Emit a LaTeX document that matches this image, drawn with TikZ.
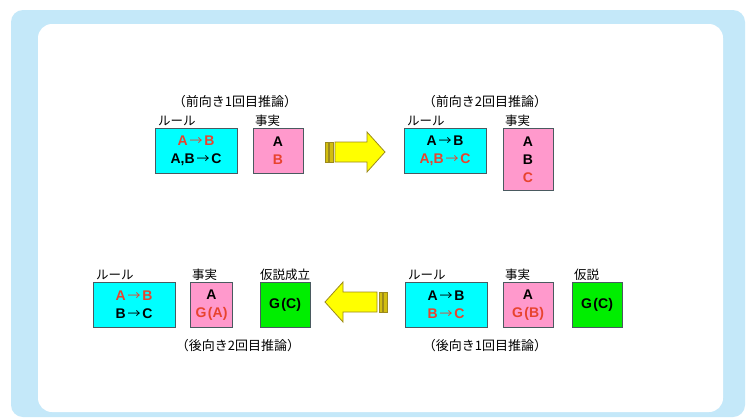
\documentclass[tikz,border=0pt]{standalone}
\usepackage{fontspec}
\setmainfont{Liberation Sans}
\newfontfamily\jp{Noto Sans CJK JP}
\newcommand{\ra}{\kern1.8pt\raisebox{0.6pt}{\jp\mdseries\fontsize{13}{18}\selectfont →}\kern1.8pt}
\definecolor{outerblue}{HTML}{C4E8F9}
\definecolor{cyanfill}{HTML}{00FFFF}
\definecolor{pinkfill}{HTML}{FF99CC}
\definecolor{greenfill}{HTML}{00EE00}
\definecolor{boxline}{HTML}{4A5A60}
\definecolor{hl}{HTML}{E8432E}
\definecolor{arrowfill}{HTML}{FFFF00}
\definecolor{arrowline}{HTML}{9C8A1C}
\definecolor{stripefill}{HTML}{D2BE10}
\tikzset{
  box/.style={draw=boxline, line width=0.8pt, inner sep=0pt, align=center,
    font=\fontsize{14}{18}\selectfont\bfseries},
  rulebox/.style={box, fill=cyanfill, minimum width=82pt, minimum height=45pt},
  factbox/.style={box, fill=pinkfill, minimum width=50pt, minimum height=45pt},
  hypbox/.style={box, fill=greenfill, minimum width=50pt, minimum height=45pt},
  tag/.style={anchor=base west, inner sep=0pt, font=\jp\fontsize{12.5}{14}\selectfont},
  steplabel/.style={inner sep=0pt, font=\jp\fontsize{13}{15}\selectfont},
  bigarrow/.style={draw=arrowline, line width=0.8pt, fill=arrowfill, line join=miter},
  stripe/.style={draw=arrowline, line width=0.6pt, fill=stripefill}
}
\begin{document}
\begin{tikzpicture}[x=1pt,y=-1pt]
\path[use as bounding box] (0,0) rectangle (746,418);
\fill[white] (0,0) rectangle (746,418);
\fill[outerblue, rounded corners=12pt] (11,10) rectangle (745,417);
\fill[white, rounded corners=14pt] (38,24) rectangle (723,412);

% ---- row 1: forward reasoning
\node[steplabel] (lab1) at (235,102) {（前向き1回目推論）};
\node[rulebox] (rule1) at (196,151) {\textcolor{hl}{A\ra B}\\A,B\ra C};
\node[factbox] (fact1) at (278,151) {A\\\textcolor{hl}{B}};
\node[tag] (rule1t) at (158,125.5) {ルール};
\node[tag] (fact1t) at (255,125.5) {事実};

\node[steplabel] (lab2) at (485,102) {（前向き2回目推論）};
\node[rulebox] (rule2) at (445,151) {A\ra B\\\textcolor{hl}{A,B\ra C}};
\node[factbox, minimum height=62pt] (fact2) at (528,159.5) {A\\B\\\textcolor{hl}{C}};
\node[tag] (rule2t) at (407,125.5) {ルール};
\node[tag] (fact2t) at (505,125.5) {事実};

% right arrow
\draw[stripe] (325,142) rectangle (328,162);
\draw[stripe] (329.5,142) rectangle (333,162);
\draw[bigarrow] (335,142) -- (367,142) -- (367,132) -- (385,152) -- (367,172) -- (367,162) -- (335,162) -- cycle;

% ---- row 2: backward reasoning
\node[rulebox] (rule3) at (134,305) {\textcolor{hl}{A\ra B}\\B\ra C};
\node[factbox, minimum width=42pt] (fact3) at (211.5,305) {A\\\textcolor{hl}{G\hspace{1.5pt}(A)}};
\node[hypbox] (hyp3) at (285,305) {G\hspace{1.5pt}(C)};
\node[tag] (rule3t) at (96,279) {ルール};
\node[tag] (fact3t) at (192,279) {事実};
\node[tag] (hyp3t) at (260,279) {仮説成立};
\node[steplabel] (lab3) at (238,346) {（後向き2回目推論）};

\node[rulebox] (rule4) at (446,305) {A\ra B\\\textcolor{hl}{B\ra C}};
\node[factbox] (fact4) at (528,305) {A\\\textcolor{hl}{G\hspace{1.5pt}(B)}};
\node[hypbox] (hyp4) at (597,305) {G\hspace{1.5pt}(C)};
\node[tag] (rule4t) at (408,279) {ルール};
\node[tag] (fact4t) at (505,279) {事実};
\node[tag] (hyp4t) at (574,279) {仮説};
\node[steplabel] (lab4) at (485,346) {（後向き1回目推論）};

% left arrow
\draw[stripe] (383.5,292) rectangle (387,312);
\draw[stripe] (379,292) rectangle (382,312);
\draw[bigarrow] (377,292) -- (343,292) -- (343,282) -- (325,302) -- (343,322) -- (343,312) -- (377,312) -- cycle;
\end{tikzpicture}
\end{document}
